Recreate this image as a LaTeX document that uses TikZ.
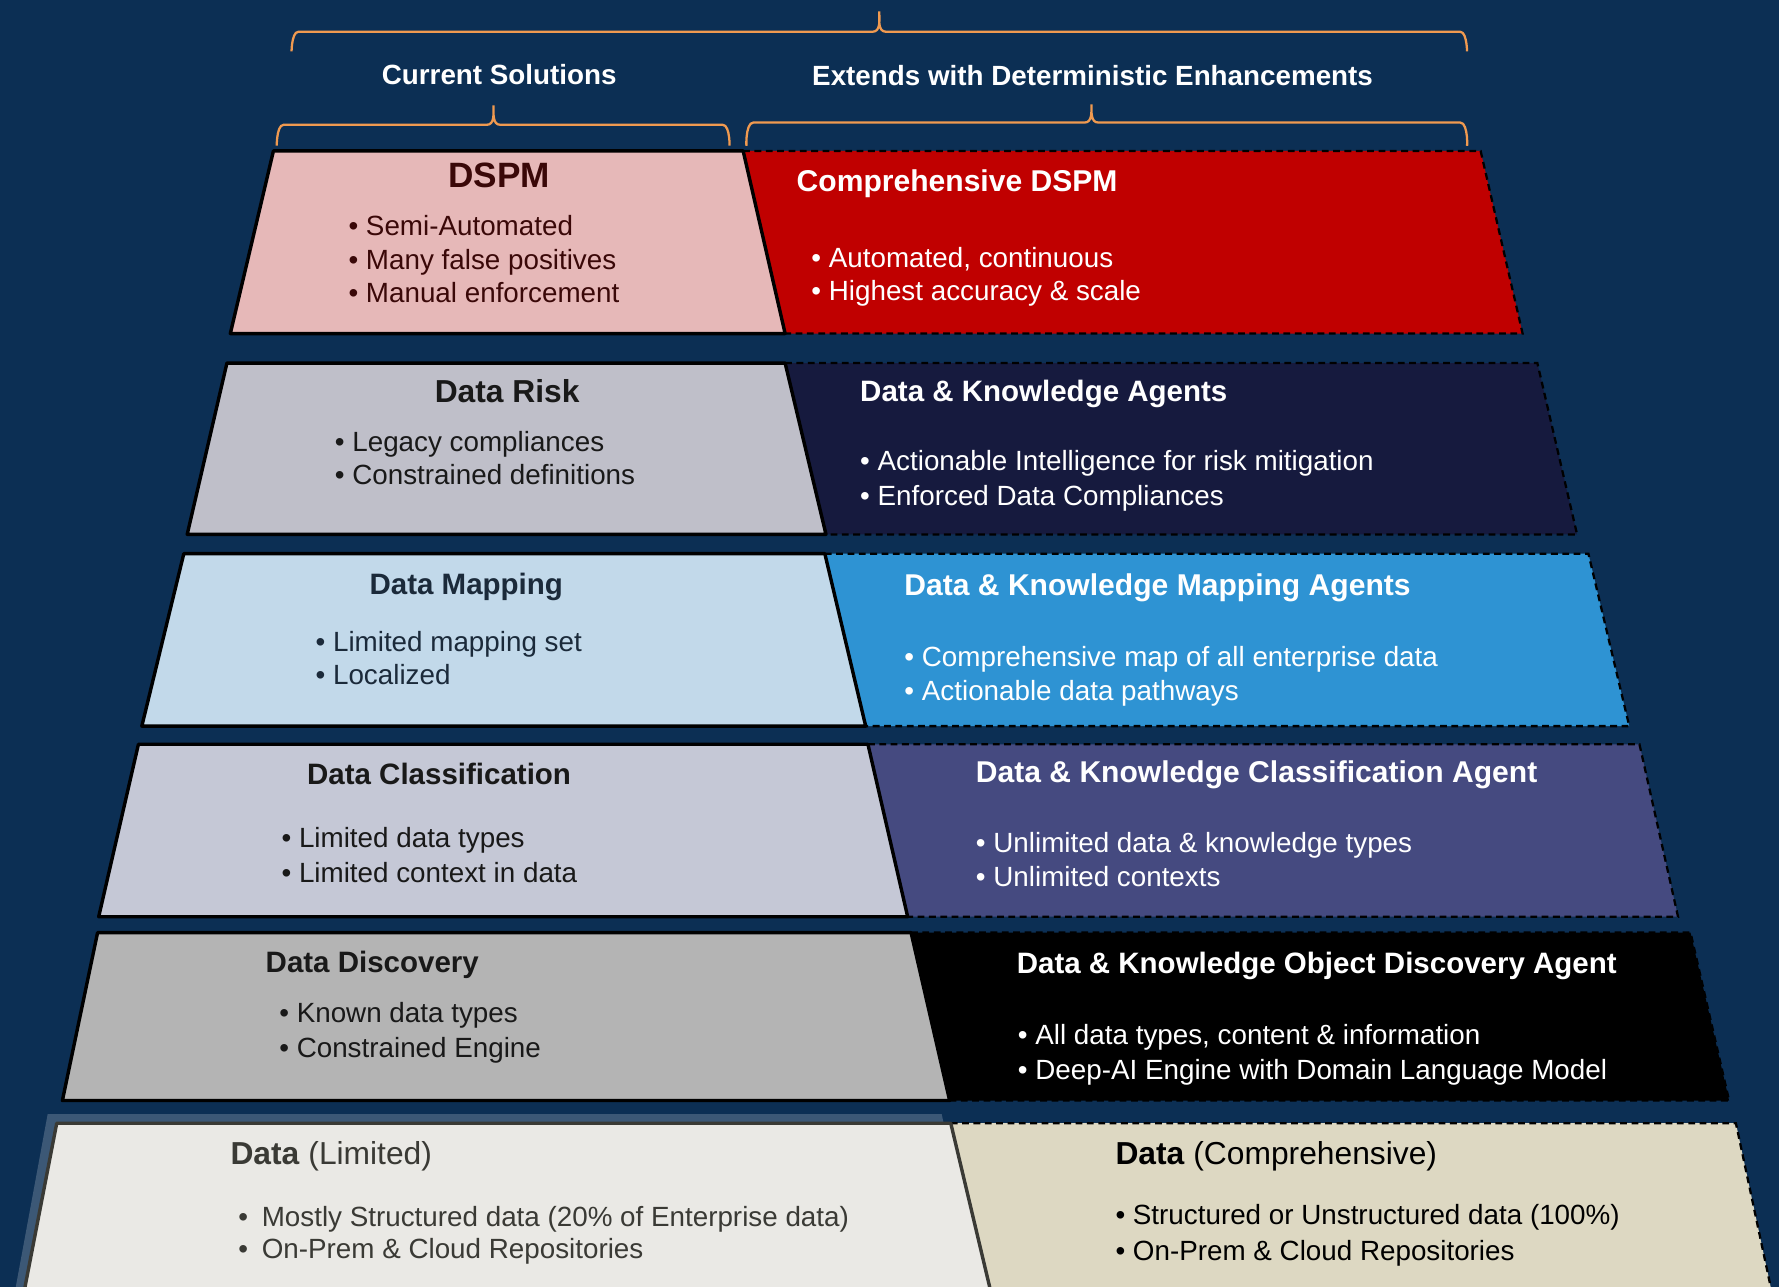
\documentclass[tikz,border=0pt]{standalone}
\usepackage{fontspec}
\setmainfont{Liberation Sans}
\definecolor{navy}{HTML}{0C2F54}
\definecolor{braceorange}{HTML}{F09A50}
\definecolor{dspmL}{HTML}{E6B8B8}
\definecolor{dspmR}{HTML}{C00000}
\definecolor{dspmT}{HTML}{3A0808}
\definecolor{riskL}{HTML}{BFBFC9}
\definecolor{riskR}{HTML}{161A3E}
\definecolor{mapL}{HTML}{C2D9EA}
\definecolor{mapR}{HTML}{2E93D3}
\definecolor{mapT}{HTML}{1B2A3A}
\definecolor{clsL}{HTML}{C5C8D6}
\definecolor{clsR}{HTML}{454A80}
\definecolor{discL}{HTML}{B4B4B4}
\definecolor{discR}{HTML}{000000}
\definecolor{dataL}{HTML}{EAE9E5}
\definecolor{dataR}{HTML}{DDD8C2}
\definecolor{dataB}{HTML}{3A3A35}
\tikzset{
pyr/.style = { x = 1pt, y = -1pt },
curbox/.style = { line width = 3pt, line join = round },
extbox/.style = { draw = black, line width = 2pt, dash pattern = on 6pt off 4pt },
brace/.style = { draw = braceorange, line width = 2pt },
ttl/.style = { font = \fontsize{#1}{#1}\selectfont\bfseries, inner sep = 0 },
itm/.style = { font = \fontsize{24.5}{28}\selectfont, inner sep = 0, anchor = mid west, yshift = -5pt },
hdr/.style = { ttl = 24.5, text = white }
}

\begin{document}
\begin{tikzpicture}[pyr]
	\useasboundingbox (0,0) rectangle (1568,1134);
	\fill[navy] (0,0) rectangle (1568,1134);

	% braces on top
	\draw[brace] (257,44) to[out=-90,in=180] (263,28) -- (769,28) to[out=0,in=-90] (775,10)
		to[out=-90,in=180] (781,28) -- (1287,28) to[out=0,in=-90] (1293,44);
	\draw[brace] (244,127) to[out=-90,in=180] (250,110) -- (429,110) to[out=0,in=-90] (435,93)
		to[out=-90,in=180] (441,110) -- (637,110) to[out=0,in=-90] (643,127);
	\draw[brace] (658,127) to[out=-90,in=180] (664,108) -- (956,108) to[out=0,in=-90] (962,92)
		to[out=-90,in=180] (968,108) -- (1287,108) to[out=0,in=-90] (1293,127);
	\node[hdr] (cur) at (440,66) {Current Solutions};
	\node[hdr] (ext) at (963,67) {Extends with Deterministic Enhancements};

	\fill[white, opacity = 0.2] (42,982) -- (830,982) -- (866,1150) -- (11,1150) -- cycle;

	% the layers: left part solid, right part dashed
	\foreach \ty/\by/\tl/\bl/\tm/\bm/\tr/\br/\lc/\rc/\bc in {
		133/294/241/203/655/692/1305/1342/dspmL/dspmR/black,
		320/471/200/165/692/728/1355/1390/riskL/riskR/black,
		488/640/162/125/727/763/1400/1436/mapL/mapR/black,
		656/808/122/87/765/800/1445/1479/clsL/clsR/black,
		822/970/86/55/803/837/1490/1524/discL/discR/black,
		990/1150/50/19/838/876/1530/1564/dataL/dataR/dataB}
	{
		\draw[extbox, fill = \rc] (\tm,\ty) -- (\tr,\ty) -- (\br,\by) -- (\bm,\by) -- cycle;
		\draw[curbox, draw = \bc, fill = \lc] (\tl,\ty) -- (\tm,\ty) -- (\bm,\by) -- (\bl,\by) -- cycle;
	}

	% DSPM
	\node[ttl = 31, text = dspmT] (dspm) at (440,155) {DSPM};
	\foreach \t [count = \i] in {Semi-Automated, Many false positives, Manual enforcement}
		\node[itm, text = dspmT] (dspm\i) at (307,{200+29.5*(\i-1)}) {• \t};
	\node[ttl = 26.5, text = white, anchor = west] (cdspm) at (702,162) {Comprehensive DSPM};
	\foreach \t [count = \i] in {{Automated, continuous}, Highest accuracy \& scale}
		\node[itm, text = white] (cdspm\i) at (715,{228+29.5*(\i-1)}) {• \t};

	% Data Risk
	\node[ttl = 28, text = black!90] (risk) at (447,345) {Data Risk};
	\foreach \t [count = \i] in {Legacy compliances, Constrained definitions}
		\node[itm, text = black!90] (risk\i) at (295,{390+29.5*(\i-1)}) {• \t};
	\node[ttl = 26, text = white, anchor = west] (agents) at (758,347) {Data \& Knowledge Agents};
	\foreach \t [count = \i] in {Actionable Intelligence for risk mitigation, Enforced Data Compliances}
		\node[itm, text = white] (agents\i) at (758,{407+31*(\i-1)}) {• \t};

	% Data Mapping
	\node[ttl = 26, text = mapT] (map) at (411,517) {Data Mapping};
	\foreach \t [count = \i] in {Limited mapping set, Localized}
		\node[itm, text = mapT] (map\i) at (278,{567+28.5*(\i-1)}) {• \t};
	\node[ttl = 26.5, text = white, anchor = west] (mapag) at (797,518) {Data \& Knowledge Mapping Agents};
	\foreach \t [count = \i] in {Comprehensive map of all enterprise data, Actionable data pathways}
		\node[itm, text = white] (mapag\i) at (797,{580+30*(\i-1)}) {• \t};

	% Data Classification
	\node[ttl = 26, text = black!90] (cls) at (387,682) {Data Classification};
	\foreach \t [count = \i] in {Limited data types, Limited context in data}
		\node[itm, text = black!90] (cls\i) at (248,{739+31*(\i-1)}) {• \t};
	\node[ttl = 26.5, text = white, anchor = west] (clsag) at (860,683) {Data \& Knowledge Classification Agent};
	\foreach \t [count = \i] in {Unlimited data \& knowledge types, Unlimited contexts}
		\node[itm, text = white] (clsag\i) at (860,{744+30*(\i-1)}) {• \t};

	% Data Discovery
	\node[ttl = 26, text = black!90, anchor = west] (disc) at (234,850) {Data Discovery};
	\foreach \t [count = \i] in {Known data types, Constrained Engine}
		\node[itm, text = black!90] (disc\i) at (246,{894+30*(\i-1)}) {• \t};
	\node[ttl = 26, text = white, anchor = west] (discag) at (896,851) {Data \& Knowledge Object Discovery Agent};
	\foreach \t [count = \i] in {{All data types, content \& information}, Deep-AI Engine with Domain Language Model}
		\node[itm, text = white] (discag\i) at (897,{913+31*(\i-1)}) {• \t};

	% Data
	\node[font = \fontsize{28}{28}\selectfont, inner sep = 0, anchor = west, text = dataB] (lim) at (203,1019) {\textbf{Data} (Limited)};
	\foreach \t [count = \i] in {Mostly Structured data (20\% of Enterprise data), On-Prem \& Cloud Repositories}
		\node[itm, text = dataB] (lim\i) at (210,{1073+29*(\i-1)}) {•\hspace{12pt}\t};
	\node[font = \fontsize{28}{28}\selectfont, inner sep = 0, anchor = west, text = black] (comp) at (983,1019) {\textbf{Data} (Comprehensive)};
	\foreach \t [count = \i] in {Structured or Unstructured data (100\%), On-Prem \& Cloud Repositories}
		\node[itm, text = black] (comp\i) at (983,{1072+31*(\i-1)}) {• \t};
\end{tikzpicture}
\end{document}
